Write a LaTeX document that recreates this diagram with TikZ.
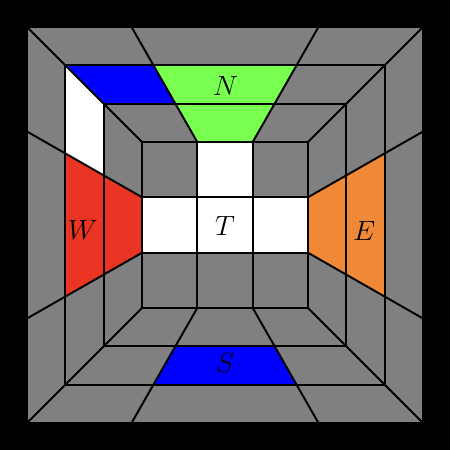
\documentclass[tikz,border=0pt]{standalone}
\begin{document}
\begin{tikzpicture}[
  edge/.style={line width=1pt, black},
  lbl/.style={inner sep=0pt, font=\fontsize{13.4}{16}\selectfont}
]
\definecolor{wallgray}{RGB}{128,128,128}
\definecolor{ngreen}{RGB}{120,255,80}
\definecolor{wred}{RGB}{235,53,36}
\definecolor{eorange}{RGB}{240,137,55}
\definecolor{pblue}{RGB}{0,0,255}
\useasboundingbox (-4.083,-4.083) rectangle (4.083,4.083);
\fill[black] (-4.083,-4.083) rectangle (4.083,4.083);
\fill[wallgray] (-3.6,-3.6) rectangle (3.6,3.6);
% floor cross
\fill[white] (-0.5,-0.5) rectangle (0.5,0.5);
\fill[white] (-0.5,0.5) rectangle (0.5,1.5);
\fill[white] (-1.5,-0.5) rectangle (-0.5,0.5);
\fill[white] (0.5,-0.5) rectangle (1.5,0.5);
% north wall
\fill[ngreen] (-0.5,1.5) -- (0.5,1.5) -- (1.3,2.9) -- (-1.3,2.9) -- cycle;
\fill[pblue] (-2.2,2.2) -- (-0.9,2.2) -- (-1.3,2.9) -- (-2.9,2.9) -- cycle;
% west wall
\fill[wred] (-1.5,-0.5) -- (-1.5,0.5) -- (-2.9,1.3) -- (-2.9,-1.3) -- cycle;
\fill[white] (-2.2,0.9) -- (-2.2,2.2) -- (-2.9,2.9) -- (-2.9,1.3) -- cycle;
% east wall
\fill[eorange] (1.5,-0.5) -- (1.5,0.5) -- (2.9,1.3) -- (2.9,-1.3) -- cycle;
% south wall
\fill[pblue] (-0.9,-2.2) -- (0.9,-2.2) -- (1.3,-2.9) -- (-1.3,-2.9) -- cycle;
% layer squares
\foreach \k in {0,1,2,3} {
  \pgfmathsetmacro{\h}{1.5+0.7*\k}
  \draw[edge] (-\h,-\h) rectangle (\h,\h);
}
% diagonals
\foreach \sx in {-1,1} \foreach \sy in {-1,1} {
  \draw[edge] (\sx*1.5,\sy*1.5) -- (\sx*3.6,\sy*3.6);
}
% radial lines
\foreach \s in {-1,1} {
  \draw[edge] (\s*0.5,1.5) -- (\s*1.7,3.6);
  \draw[edge] (\s*0.5,-1.5) -- (\s*1.7,-3.6);
  \draw[edge] (1.5,\s*0.5) -- (3.6,\s*1.7);
  \draw[edge] (-1.5,\s*0.5) -- (-3.6,\s*1.7);
  \draw[edge] (\s*0.5,-1.5) -- (\s*0.5,1.5);
  \draw[edge] (-1.5,\s*0.5) -- (1.5,\s*0.5);
}
\node[lbl] (labN) at (0.01,2.52) {$N$};
\node[lbl] (labT) at (0,-0.01) {$T$};
\node[lbl] (labW) at (-2.58,-0.09) {$W$};
\node[lbl] (labE) at (2.53,-0.11) {$E$};
\node[lbl] (labS) at (0,-2.51) {$S$};
\end{tikzpicture}
\end{document}
